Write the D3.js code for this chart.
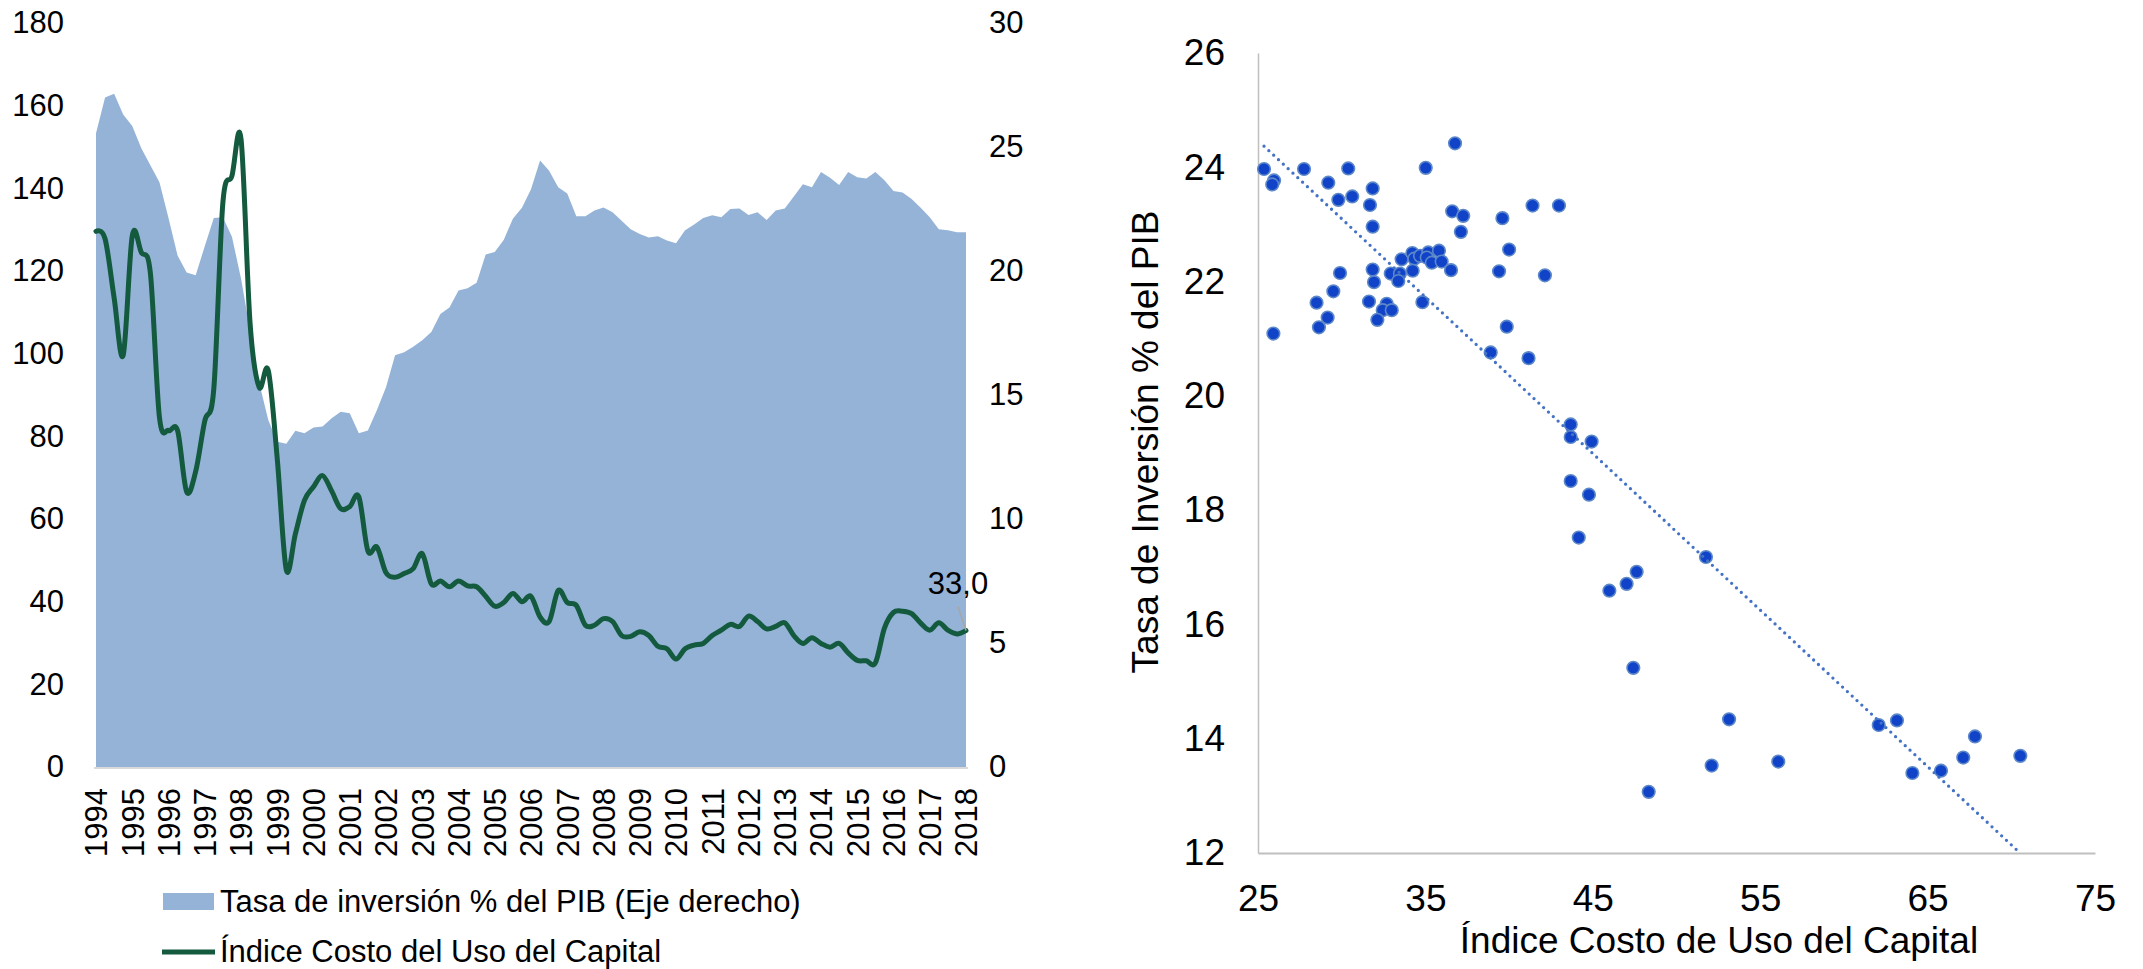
<!DOCTYPE html>
<html><head><meta charset="utf-8">
<script src="https://cdn.jsdelivr.net/npm/d3@7"></script>
<style>
body{margin:0;background:#fff;}
text{font-family:"Liberation Sans",Arial,sans-serif;fill:#000;}
</style>
</head><body>
<svg id="c" width="2143" height="969"></svg>
<script>
// ---------- DATA ----------
const years = [1994,1995,1996,1997,1998,1999,2000,2001,2002,2003,2004,2005,2006,2007,2008,2009,2010,2011,2012,2013,2014,2015,2016,2017,2018];
// Tasa de inversión % del PIB (eje derecho), trimestral 1994T1-2018T1
const invRate = [25.55,27.00,27.15,26.31,25.85,24.95,24.26,23.58,22.14,20.62,19.94,19.83,21.00,22.14,22.17,21.38,
19.70,17.60,15.50,14.00,13.11,13.03,13.56,13.46,13.69,13.73,14.06,14.32,14.26,13.46,13.57,14.40,
15.31,16.60,16.72,16.95,17.21,17.54,18.27,18.53,19.21,19.30,19.53,20.67,20.77,21.26,22.11,22.55,
23.30,24.46,24.04,23.38,23.12,22.21,22.21,22.44,22.56,22.37,22.03,21.68,21.49,21.35,21.40,21.23,
21.12,21.64,21.87,22.14,22.25,22.17,22.50,22.52,22.26,22.37,22.06,22.44,22.52,23.00,23.50,23.38,
23.99,23.76,23.47,23.99,23.78,23.73,23.99,23.66,23.23,23.17,22.90,22.55,22.17,21.68,21.64,21.56,21.56];
// Índice Costo del Uso del Capital (eje izquierdo)
const costIndex = [129.6,127.8,113.5,99.6,128.5,124.5,119.5,84.6,81.4,81.4,66.6,71.5,83.7,91.5,136.5,143.0,
152.0,107.4,91.9,96.0,74.6,47.7,56.4,64.5,67.8,70.5,66.8,62.5,63.0,65.4,52.3,53.2,
47.0,45.9,46.8,48.0,51.6,44.3,45.0,43.6,45.0,43.8,43.6,41.3,38.9,39.8,42.0,40.0,
41.3,36.3,35.2,42.7,39.8,39.1,34.3,34.3,35.9,35.2,31.8,31.6,32.7,31.8,29.2,28.6,
26.1,28.6,29.5,29.9,31.8,33.1,34.5,34.0,36.5,35.2,33.4,34.0,34.9,31.8,29.9,31.3,
29.9,29.0,29.9,27.6,25.8,25.7,25.2,33.6,37.4,37.7,37.1,34.8,33.1,34.9,33.1,32.2,33.0];
const leftTicks = [0,20,40,60,80,100,120,140,160,180];
const rightTicks = [0,5,10,15,20,25,30];

// Dispersión
const scatterCost = [25.36,25.96,25.85,27.75,30.39,29.2,29.8,30.63,31.85,31.69,31.85,35.02,36.77,36.6,37.26,37.12,39.6,40.0,39.4,39.86,
29.9,29.5,28.5,29.16,28.64,25.92,31.85,31.93,31.63,32.69,32.45,32.99,32.13,32.93,33.48,33.38,33.58,34.22,34.34,34.24,
34.68,35.17,35.08,35.81,35.38,35.97,36.53,34.82,38.9,41.4,42.98,42.14,41.16,
43.68,43.68,44.93,43.68,44.77,44.16,51.76,47.62,47.02,45.99,47.42,53.14,52.1,48.34,
56.08,62.08,63.17,64.09,65.80,67.13,67.83,70.54];
const scatterInv = [23.97,23.77,23.70,23.97,23.98,23.73,23.43,23.49,23.63,23.34,22.96,23.99,24.42,23.23,23.15,22.87,23.11,22.56,22.18,21.21,
22.15,21.83,21.63,21.37,21.20,21.09,22.21,21.99,21.65,21.61,21.50,21.50,21.33,22.14,22.14,22.01,22.39,22.50,22.40,22.19,
22.45,22.51,22.42,22.54,22.33,22.35,22.20,21.64,20.76,23.33,23.33,22.11,20.66,
19.50,19.28,19.20,18.51,18.27,17.52,17.18,16.92,16.71,16.59,15.24,14.34,13.53,13.07,
13.60,14.24,14.32,13.40,13.44,13.67,14.04,13.70];
const trendCost = [25.36,70.34];
const trendInv = [24.37,12.05];
const scatterXTicks = [25,35,45,55,65,75];
const scatterYTicks = [12,14,16,18,20,22,24,26];

// ---------- DRAW ----------
const svg = d3.select("#c");
const quarterKeys = [];
years.forEach(y => [1,2,3,4].forEach(q => { if (y < 2018 || q === 1) quarterKeys.push(y + "Q" + q); }));

const AREA = "#95b3d7", LINE = "#135a3f";
const fL = 31;

const xL = d3.scalePoint().domain(quarterKeys).range([96, 966]);
const yL = d3.scaleLinear().domain([0,180]).range([767,23]);
const yR = d3.scaleLinear().domain([0,30]).range([767,23]);

svg.append("path")
  .attr("d", d3.area().x((d,i)=>xL(quarterKeys[i])).y0(yR(0)).y1(d=>yR(d))(invRate))
  .attr("fill", AREA);

svg.append("line").attr("x1",94).attr("x2",968).attr("y1",768).attr("y2",768)
  .attr("stroke","#d9d9d9").attr("stroke-width",2);

svg.append("path")
  .attr("d", d3.line().x((d,i)=>xL(quarterKeys[i])).y(d=>yL(d)).curve(d3.curveCardinal.tension(0))(costIndex))
  .attr("fill","none").attr("stroke",LINE).attr("stroke-width",5).attr("stroke-linejoin","round").attr("stroke-linecap","round");

// left axis
const gL = svg.append("g").attr("transform","translate(96,0)")
  .call(d3.axisLeft(yL).tickValues(leftTicks).tickSize(0).tickPadding(32));
gL.select(".domain").remove();
gL.selectAll("text").style("font-size",fL+"px").style("font-family","'Liberation Sans',Arial,sans-serif").attr("fill","#000");

// right axis
const gR = svg.append("g").attr("transform","translate(966,0)")
  .call(d3.axisRight(yR).tickValues(rightTicks).tickSize(0).tickPadding(23));
gR.select(".domain").remove();
gR.selectAll("text").style("font-size",fL+"px").style("font-family","'Liberation Sans',Arial,sans-serif").attr("fill","#000");

// bottom axis (years)
const gB = svg.append("g").attr("transform","translate(0,767)")
  .call(d3.axisBottom(xL).tickValues(years.map(y=>y+"Q1")).tickFormat(k=>k.slice(0,4)).tickSize(0));
gB.select(".domain").remove();
gB.selectAll("text")
  .attr("transform","rotate(-90)").attr("x",-21).attr("y",0).attr("dy","0.35em")
  .style("text-anchor","end").style("font-size",fL+"px").style("font-family","'Liberation Sans',Arial,sans-serif").attr("fill","#000");

// last value label
const lastKey = quarterKeys[quarterKeys.length-1];
const lastVal = costIndex[costIndex.length-1];
svg.append("line").attr("x1",xL(lastKey)-8).attr("y1",yL(lastVal)-24).attr("x2",xL(lastKey)).attr("y2",yL(lastVal))
  .attr("stroke","#a6a6a6").attr("stroke-width",1.5);
svg.append("text").attr("x",xL(lastKey)-8).attr("y",594).attr("text-anchor","middle")
  .style("font-size",fL+"px").text(d3.format(".1f")(lastVal).replace(".",","));

// legend
svg.append("rect").attr("x",163).attr("y",893).attr("width",51).attr("height",17).attr("fill",AREA);
svg.append("text").attr("x",220).attr("y",912).style("font-size",fL+"px").text("Tasa de inversión % del PIB (Eje derecho)");
svg.append("line").attr("x1",162).attr("x2",215).attr("y1",952).attr("y2",952).attr("stroke",LINE).attr("stroke-width",5);
svg.append("text").attr("x",220).attr("y",962).style("font-size",fL+"px").text("Índice Costo del Uso del Capital");

// ---------- SCATTER ----------
const fS = 37;
const xS = d3.scaleLinear().domain([25,75]).range([1258,2095]);
const yS = d3.scaleLinear().domain([12,26]).range([853,53]);

const gSY = svg.append("g").attr("transform","translate(1258,0)")
  .call(d3.axisLeft(yS).tickValues(scatterYTicks).tickSize(0).tickSizeOuter(0).tickPadding(33));
gSY.select(".domain").attr("stroke","#bfbfbf").attr("stroke-width",1.5);
gSY.selectAll("text").style("font-size",fS+"px").style("font-family","'Liberation Sans',Arial,sans-serif").attr("fill","#000");

const gSX = svg.append("g").attr("transform","translate(0,853)")
  .call(d3.axisBottom(xS).tickValues(scatterXTicks).tickSize(0).tickSizeOuter(0).tickPadding(32));
gSX.select(".domain").attr("stroke","#bfbfbf").attr("stroke-width",2);
gSX.selectAll("text").style("font-size",fS+"px").style("font-family","'Liberation Sans',Arial,sans-serif").attr("fill","#000");

svg.append("g").selectAll("circle").data(scatterCost).join("circle")
  .attr("cx",d=>xS(d)).attr("cy",(d,i)=>yS(scatterInv[i])).attr("r",6.3)
  .attr("fill","#1043c8").attr("stroke","#5d88c8").attr("stroke-width",1.6);

svg.append("path")
  .attr("d", d3.line().x(d=>xS(d)).y((d,i)=>yS(trendInv[i]))(trendCost))
  .attr("stroke","#4472c4").attr("stroke-width",3.3).attr("stroke-linecap","round")
  .attr("stroke-dasharray","0 6.6").attr("fill","none");

svg.append("text").attr("x",1719).attr("y",953).attr("text-anchor","middle")
  .style("font-size",fS+"px").text("Índice Costo de Uso del Capital");
svg.append("text").attr("transform","translate(1158,442) rotate(-90)").attr("text-anchor","middle")
  .style("font-size",fS+"px").text("Tasa de Inversión % del PIB");
</script>
</body></html>
